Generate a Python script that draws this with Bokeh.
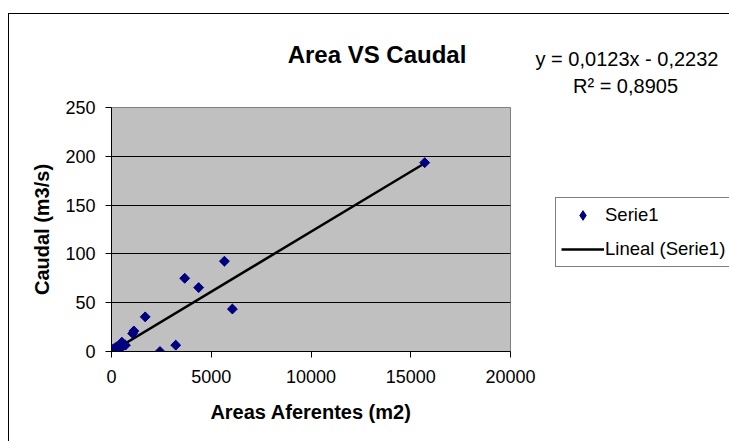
import numpy as np
from bokeh.plotting import figure
from bokeh.models import Range1d, Label, Legend, LegendItem, FixedTicker
from bokeh.embed import file_html
from bokeh.resources import INLINE

# ---- data ----
areas = [15700, 5660, 3670, 4370, 6060, 1690, 1060, 1120, 3220, 2430, 520, 700, 360, 130, 240, 60, 440, 300, 180]
caudal = [193.5, 92.5, 75, 65.5, 43.5, 35.5, 18.5, 21, 6.5, 0, 9.5, 6.5, 0, 3, 4.5, 2, 3, 1, 2]
slope = 0.0123
intercept = -0.2232
r2_text = "0,8905"
x_ticks = [0, 5000, 10000, 15000, 20000]
y_ticks = [0, 50, 100, 150, 200, 250]
title_text = "Area VS Caudal"
eq_text = "y = 0,0123x - 0,2232"
r2_label = "R\u00b2 = " + r2_text
x_label = "Areas Aferentes (m2)"
y_label = "Caudal (m3/s)"
series_name = "Serie1"
trend_name = "Lineal (Serie1)"

FONT = "Liberation Sans"

p = figure(frame_width=399, frame_height=244, output_backend="svg", toolbar_location=None,
           x_range=Range1d(0, 20000), y_range=Range1d(0, 250),
           min_border_left=102, min_border_right=219, min_border_top=93, min_border_bottom=90,
           styles={"margin-left": "8px", "margin-top": "13px",
                   "border-left": "1px solid black", "border-top": "1px solid black"})
p.title.visible = False
p.background_fill_color = "#C0C0C0"
p.border_fill_color = "white"
p.outline_line_color = "#808080"
p.outline_line_width = 1

for ax in (p.xaxis, p.yaxis):
    ax.axis_line_color = "black"
    ax.major_tick_line_color = "black"
    ax.major_tick_in = 0
    ax.major_tick_out = 6
    ax.minor_tick_line_color = None
    ax.major_label_text_font = FONT
    ax.major_label_text_font_size = "18px"
    ax.major_label_text_color = "black"
    ax.axis_label_text_font = FONT
    ax.axis_label_text_font_size = "20px"
    ax.axis_label_text_font_style = "bold"
    ax.axis_label_text_color = "black"
p.xaxis.ticker = FixedTicker(ticks=x_ticks)
p.yaxis.ticker = FixedTicker(ticks=y_ticks)
p.xaxis.major_label_standoff = 12
p.yaxis.major_label_standoff = 10
p.xaxis.axis_label = x_label
p.yaxis.axis_label = y_label
p.xaxis.axis_label_standoff = 15
p.yaxis.axis_label_standoff = 9

p.xgrid.grid_line_color = None
p.ygrid.grid_line_color = "black"
p.ygrid.grid_line_width = 1
p.ygrid.ticker = FixedTicker(ticks=y_ticks)

x_line = np.array([min(areas), max(areas)], dtype=float)
y_line = slope * x_line + intercept
r_line = p.line(x_line, y_line, line_color="black", line_width=2.5)

# diamond renderer (gives the legend its diamond), fully covered by the rotated squares
r_leg = p.scatter(areas, caudal, marker="diamond", size=9,
                  fill_color="#000080", line_color="#000080")
r_pts = p.scatter(areas, caudal, marker="square", angle=np.pi / 4, size=7,
                  fill_color="#000080", line_color="#000080")

legend = Legend(items=[LegendItem(label=series_name, renderers=[r_leg]),
                       LegendItem(label=trend_name, renderers=[r_line])],
                location=(45, 84))
legend.border_line_color = "black"
legend.border_line_width = 1
legend.background_fill_color = "white"
legend.background_fill_alpha = 1
legend.label_text_font = FONT
legend.label_text_font_size = "18.5px"
legend.label_text_color = "black"
legend.margin = 0
legend.padding = 5
legend.spacing = 10
legend.glyph_height = 24
legend.glyph_width = 43
legend.label_standoff = 1
legend.label_height = 24
legend.label_width = 155
p.add_layout(legend, "right")


# title and equation (page pixel positions converted to data coordinates)
def px_to_x(px):
    return (px - 111) / 399 * 20000


def py_to_y(py):
    return 250 + (107 - py) / 244 * 250


for txt, cx, by, size, style in [(title_text, 376.5, 53.5, "24px", "bold"),
                                 (eq_text, 626.5, 58.5, "20px", "normal"),
                                 (r2_label, 625, 85, "20px", "normal")]:
    p.add_layout(Label(x=px_to_x(cx), y=py_to_y(by), text=txt, text_font=FONT,
                       text_font_size=size, text_font_style=style,
                       text_align="center", text_baseline="alphabetic",
                       text_color="black"), "above")

open("out.html", "w").write(file_html(p, INLINE))
